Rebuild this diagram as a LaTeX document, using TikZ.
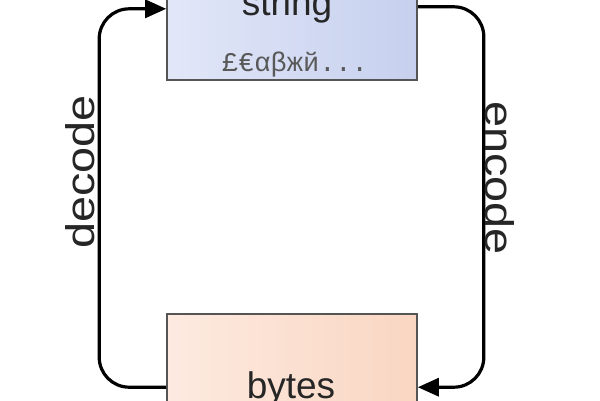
\documentclass[tikz,border=0pt]{standalone}
\usepackage{fontspec}
\setmainfont{Liberation Sans}
\newfontfamily\samplefont{Liberation Mono}
\usetikzlibrary{arrows.meta}
\definecolor{strblue}{HTML}{E2E7F8}
\definecolor{strblueb}{HTML}{C6D0EE}
\definecolor{bytpeach}{HTML}{FDEAE0}
\definecolor{bytpeachb}{HTML}{F9D6C2}
\definecolor{edgegray}{HTML}{555555}
\newcommand{\wide}[1]{\scalebox{1.17}[1]{#1}}
\tikzset{
  box/.style={draw=edgegray, line width=1.6pt, minimum width=250pt, minimum height=110pt, inner sep=0pt},
  flow/.style={line width=3.2pt, rounded corners=30pt, -{Triangle[length=21pt,width=18pt]}},
  word/.style={font=\fontsize{37}{40}\selectfont, text=black!85},
  side/.style={font=\fontsize{40}{44}\selectfont, text=black!85}
}
\begin{document}
\begin{tikzpicture}[x=1pt,y=-1pt]
    \useasboundingbox (0,0) rectangle (600,400);
    \clip (0,0) rectangle (600,400);
    \fill[white] (0,0) rectangle (600,400);
    \node[box, left color=strblue, right color=strblueb] (str) at (292,25) {};
    \node[box, left color=bytpeach, right color=bytpeachb] (byt) at (292,369) {};
    \node[word, anchor=base] (strtxt) at (287,15) {string};
    \node[anchor=base, font=\samplefont\fontsize{27}{30}\selectfont, text=black!65] (sample) at (295,71) {£€αβжй...};
    \node[word, anchor=base] (byttxt) at (291,398) {bytes};
    \draw[flow] ([yshift=-74pt]byt.north west) -- ++(-67,0) |- ([yshift=72pt]str.south west);
    \draw[flow] ([yshift=74pt]str.south east) -- ++(66,0) |- ([yshift=-74pt]byt.north east);
    \node[side, rotate=90] (dec) at (80,172) {\wide{decode}};
    \node[side, rotate=-90] (enc) at (500,178) {\wide{encode}};
\end{tikzpicture}
\end{document}
